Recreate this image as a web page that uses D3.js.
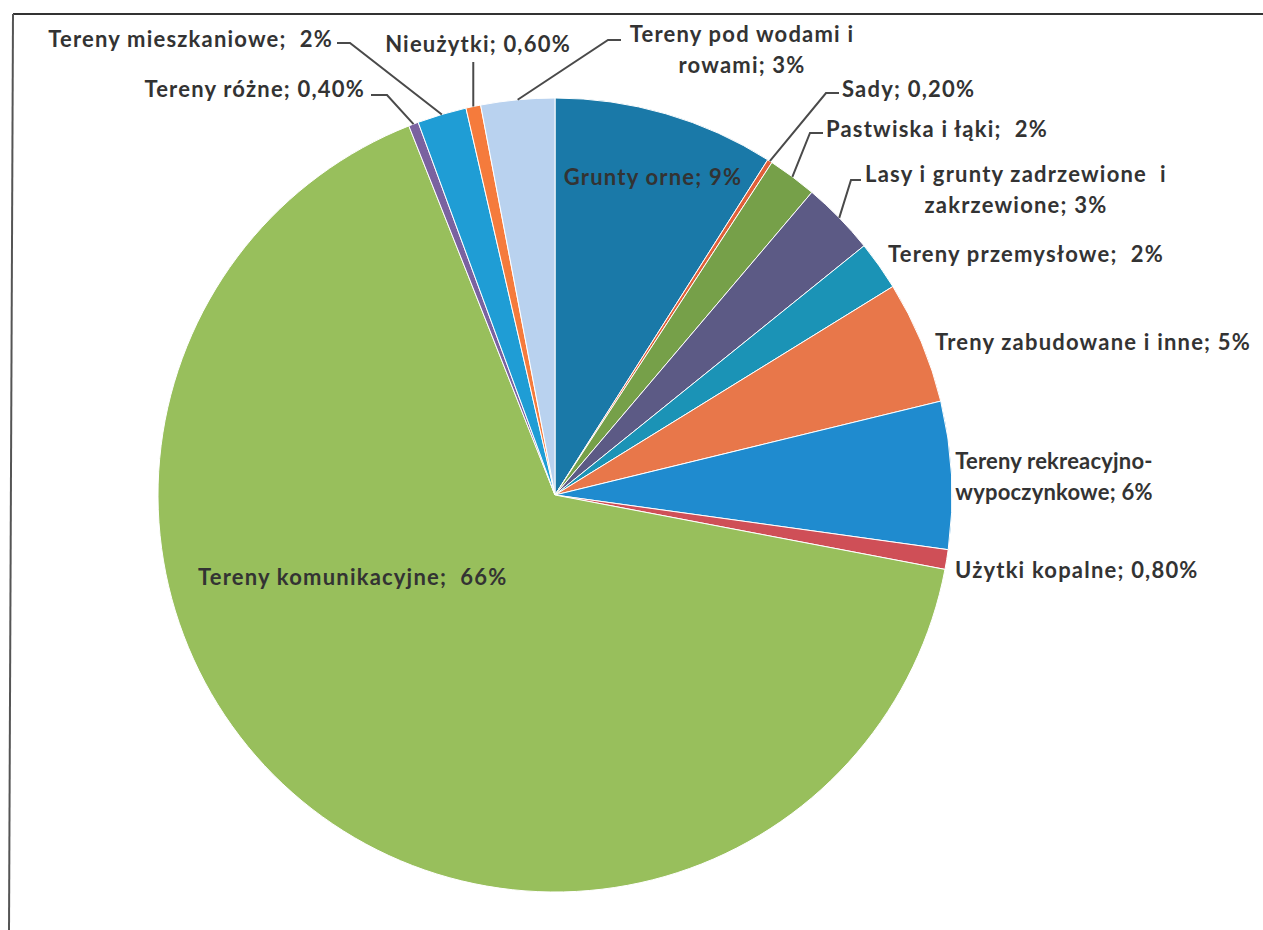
<!DOCTYPE html>
<html>
<head>
<meta charset="utf-8">
<script src="https://cdn.jsdelivr.net/npm/d3@7"></script>
<style>
  html, body { margin: 0; padding: 0; background: #fff; }
  svg { display: block; }
  .lbl { font-family: Lato, "Open Sans", sans-serif; font-weight: 700; font-size: 22px; fill: #333; letter-spacing: 1.2px; }
</style>
</head>
<body>
<svg id="chart" width="1263" height="930"></svg>
<script>
// categories, clockwise from 12 o'clock
var categories = [
  "Grunty orne", "Sady", "Pastwiska i łąki", "Lasy i grunty zadrzewione i zakrzewione",
  "Tereny przemysłowe", "Treny zabudowane i inne", "Tereny rekreacyjno-wypoczynkowe",
  "Użytki kopalne", "Tereny komunikacyjne", "Tereny różne", "Tereny mieszkaniowe",
  "Nieużytki", "Tereny pod wodami i rowami"
];
// share in percent
var values = [9, 0.2, 2, 3, 2, 5, 6, 0.8, 66, 0.4, 2, 0.6, 3];
// label text, split into lines as in the original
var labelLines = [
  ["Grunty orne; 9%"], ["Sady; 0,20%"], ["Pastwiska i łąki;  2%"],
  ["Lasy i grunty zadrzewione  i", "zakrzewione; 3%"],
  ["Tereny przemysłowe;  2%"], ["Treny zabudowane i inne; 5%"],
  ["Tereny rekreacyjno-", "wypoczynkowe; 6%"], ["Użytki kopalne; 0,80%"],
  ["Tereny komunikacyjne;  66%"], ["Tereny różne; 0,40%"],
  ["Tereny mieszkaniowe;  2%"], ["Nieużytki; 0,60%"],
  ["Tereny pod wodami i", "rowami; 3%"]
];
var colors = ["#1a79a8", "#e0603a", "#76a049", "#5c5a85", "#1b93b6", "#e8774a",
              "#1f8bcf", "#cf4f57", "#98bf5c", "#7a62a0", "#1f9dd5", "#f57b3c", "#b9d2ef"];

var W = 1263, H = 930;
var cx = 555, cy = 495, R = 397;

// label placement: x, first baseline, anchor, optional leader bend + end
var labelPos = [
  {x: 653, y: 185, a: "middle"},
  {x: 842, y: 97, a: "start", bend: [826, 93], end: [839, 93]},
  {x: 826, y: 137, a: "start", bend: [810, 133], end: [823, 133]},
  {x: 1016, y: 182, a: "middle", bend: [851, 180], end: [861, 180]},
  {x: 888, y: 262, a: "start"},
  {x: 935, y: 350, a: "start"},
  {x: 1054, y: 469, a: "middle", small: true},
  {x: 955, y: 578, a: "start"},
  {x: 198, y: 585, a: "start"},
  {x: 365, y: 97, a: "end", bend: [387, 95], end: [371, 95]},
  {x: 333, y: 47, a: "end", bend: [350, 43], end: [337, 43]},
  {x: 478, y: 52, a: "middle", vert: 62},
  {x: 742, y: 42, a: "middle", bend: [608, 40], end: [621, 40]}
];
var lineGap = 31;

var svg = d3.select("#chart");

// frame (scanned page edge)
svg.append("line").attr("x1", 13).attr("y1", 14).attr("x2", W).attr("y2", 14)
  .attr("stroke", "#333").attr("stroke-width", 2);
svg.append("line").attr("x1", 13).attr("y1", 14).attr("x2", 9).attr("y2", H)
  .attr("stroke", "#555").attr("stroke-width", 2);

var color = d3.scaleOrdinal(categories, colors);
var pie = d3.pie().sort(null).value(function(d, i) { return values[i]; });
var arcs = pie(categories);
var arc = d3.arc().innerRadius(0).outerRadius(R);
var edge = d3.arc().innerRadius(R).outerRadius(R);

var g = svg.append("g").attr("transform", "translate(" + cx + "," + cy + ")");
g.selectAll("path.slice").data(arcs).enter().append("path")
  .attr("class", "slice")
  .attr("d", arc)
  .attr("fill", function(d) { return color(d.data); })
  .attr("stroke", "#fff").attr("stroke-width", 1);

// leader lines
arcs.forEach(function(d, i) {
  var p = labelPos[i];
  if (!p.bend && !p.vert) return;
  var c = edge.centroid(d);
  var pts = [[cx + c[0], cy + c[1]]];
  if (p.vert) pts.push([cx + c[0], p.vert]);
  else { pts.push(p.bend); pts.push(p.end); }
  svg.append("path").attr("d", d3.line()(pts))
    .attr("fill", "none").attr("stroke", "#4a4a4a").attr("stroke-width", 2);
});

// labels
var labels = svg.selectAll("text.lbl").data(arcs).enter().append("text")
  .attr("class", "lbl")
  .attr("xml:space", "preserve")
  .style("letter-spacing", function(d, i) { return labelPos[i].small ? "0.2px" : null; })
  .attr("text-anchor", function(d, i) { return labelPos[i].a; });
labels.each(function(d, i) {
  var t = d3.select(this), p = labelPos[i];
  labelLines[i].forEach(function(s, k) {
    t.append("tspan").attr("x", p.x).attr("y", p.y + k * lineGap).text(s);
  });
});
</script>
</body>
</html>
